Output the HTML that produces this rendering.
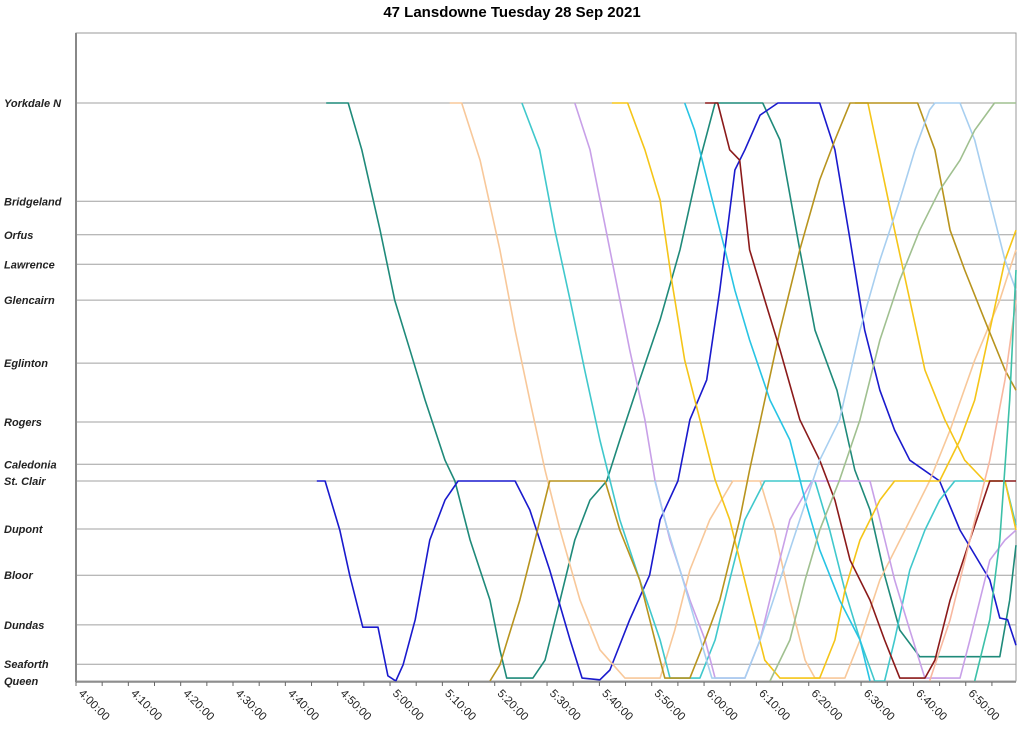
<!DOCTYPE html>
<html><head><meta charset="utf-8"><style>
body{margin:0;background:#fff;}
svg{display:block;font-family:"Liberation Sans",Arial,sans-serif;}
</style></head><body>
<svg id="chart" width="1024" height="734">
<text x="512" y="17" text-anchor="middle" font-size="15" font-weight="bold" fill="#000">47 Lansdowne Tuesday 28 Sep 2021</text>
<g id="grid"></g><g id="series"></g><g id="axes"></g>
</svg>
<script>
const stopNames=["Yorkdale N","Bridgeland","Orfus","Lawrence","Glencairn","Eglinton","Rogers","Caledonia","St. Clair","Dupont","Bloor","Dundas","Seaforth","Queen"];
const stopPos=[100,83.0,77.2,72.1,65.9,55.0,44.8,37.5,34.6,26.3,18.3,9.7,2.9,0];
const tickLabels=["4:00:00","4:10:00","4:20:00","4:30:00","4:40:00","4:50:00","5:00:00","5:10:00","5:20:00","5:30:00","5:40:00","5:50:00","6:00:00","6:10:00","6:20:00","6:30:00","6:40:00","6:50:00"];
const busColors=["#1f8a7a","#1a1acd","#f8c89a","#40c8cc","#c8a0e8","#f5c518","#f5c518","#b8941e","#8b1a1a","#28c4e4","#a8cff0","#a0c090","#f8b8a0","#3cc0a8"];
const busA=[47.8,100,52.0,100,54.6,91.9,58.1,78.0,60.9,65.9,63.8,57.3,66.7,48.6,70.5,38.2,72.4,34.6,75.3,24.4,79.1,14.0,81.0,5.4,82.3,0.5,87.3,0.5,89.6,3.6,92.5,14.0,95.3,24.4,98.2,31.3,101.4,34.6,103.9,41.7,107.7,52.1,111.6,62.5,115.4,74.6,119.2,90.1,122.1,100,131.2,100,134.5,93.6,138.3,74.6,141.2,60.7,145.4,50.3,148.8,36.5,151.7,29.6,154.5,18.3,157.4,8.8,161.2,4.2,176.5,4.2,178.4,14.0,179.6,23.5];
const busB=[46.0,34.6,47.6,34.6,50.4,26.1,52.3,18.3,54.8,9.3,57.7,9.3,59.6,0.9,61.1,0,62.5,2.8,64.8,10.6,67.6,24.4,70.5,31.3,73.0,34.6,83.9,34.6,86.7,29.6,90.5,19.2,94.4,7.1,96.7,0.5,100.1,0.2,102.0,1.9,105.8,10.6,109.6,18.3,111.6,27.9,115.0,34.6,117.3,45.2,120.5,52.1,123.0,67.6,125.9,88.4,127.8,91.9,130.7,97.9,134.1,100,142.1,100,145.0,91.9,147.9,76.3,150.7,60.7,153.6,50.3,156.4,43.4,159.3,38.2,165.0,34.6,168.9,26.1,174.6,17.5,176.5,10.9,178.0,10.6,179.6,6.2];
const busC=[71.4,100,73.7,100,77.2,90.1,81.0,74.6,83.9,60.7,86.7,48.6,89.6,36.5,92.5,26.1,96.3,14.0,100.1,5.4,104.9,0.5,111.6,0.5,114.4,8.8,117.3,19.2,121.1,27.9,125.5,34.6,130.7,34.6,133.5,26.1,136.4,14.0,139.3,3.6,141.2,0.5,146.9,0.5,149.8,7.1,153.6,17.5,158.4,26.1,163.1,34.6,167.0,43.4,171.7,55.5,176.5,65.9,179.6,74.6];
const busD=[85.2,100,88.6,91.9,91.5,78.0,94.4,65.9,97.2,53.8,100.1,41.7,103.9,27.9,107.7,17.5,111.6,7.1,113.5,0.5,119.2,0.5,122.1,7.1,124.9,17.5,127.8,27.9,131.6,34.6,141.2,34.6,144.0,26.1,146.9,15.7,149.8,7.1,152.6,0,154.5,0,156.4,7.1,159.3,19.2,162.2,26.1,165.0,31.3,167.9,34.6,177.5,34.6,179.6,27.0];
const busE=[95.3,100,98.2,91.9,102.0,74.6,105.8,57.3,108.7,45.2,110.6,34.8,113.5,24.4,117.3,14.0,120.2,7.1,122.1,0.5,127.8,0.5,130.7,7.1,133.5,17.5,136.4,27.9,140.6,34.6,151.7,34.6,153.6,27.9,156.4,17.5,159.3,8.8,162.2,0.5,168.9,0.5,170.8,7.1,172.7,14.0,174.6,20.9,177.5,24.4,179.6,26.1];
const busF=[102.4,100,105.4,100,108.7,91.9,111.6,83.2,113.8,69.4,116.3,55.5,119.2,45.2,122.1,34.8,124.9,27.9,128.7,14.0,131.6,3.6,134.5,0.5,142.1,0.5,145.0,7.1,146.9,15.7,149.8,24.4,153.6,31.3,156.4,34.6,165.0,34.6,168.9,41.7,171.7,48.6,174.6,60.7,177.5,72.8,179.6,78.0];
const busF2=[148.8,100,151.3,100,153.6,90.1,156.4,78.0,159.3,65.9,162.2,53.8,166.0,45.2,169.8,38.2,173.6,34.6,177.5,34.6,179.6,26.1];
const busG=[79.1,0,81.0,2.8,84.8,14.0,87.7,24.4,90.5,34.6,101.1,34.6,103.9,26.1,107.7,17.5,110.6,7.1,112.5,0.5,117.3,0.5,120.2,7.1,123.0,14.0,126.8,27.9,128.7,36.5,131.6,48.6,134.5,60.7,138.3,74.6,142.1,86.7,145.0,93.6,147.9,100,160.8,100,164.1,91.9,167.0,78.0,169.8,71.1,173.6,62.5,177.5,53.8,179.6,50.3];
const busH=[120.2,100,122.6,100,124.9,91.9,126.8,90.1,128.7,74.6,131.6,65.9,134.5,57.3,138.3,45.2,142.1,38.2,145.0,31.3,147.9,20.9,151.7,14.0,154.5,7.1,157.4,0.5,162.2,0.5,164.1,3.6,167.0,14.0,170.8,24.4,174.6,34.6,179.6,34.6];
const busI=[116.3,100,118.2,95.3,121.1,84.9,124.0,74.6,125.9,67.6,128.7,59.0,132.6,48.6,136.4,41.7,139.3,31.3,142.1,22.7,145.9,14.0,149.8,7.1,151.7,0];
const busJ=[110.6,34.6,112.5,27.9,115.4,19.2,118.2,10.6,121.5,0.5,127.8,0.5,130.7,7.1,134.5,17.5,138.3,27.9,142.1,38.2,145.9,45.2,149.8,60.7,153.6,72.8,157.4,83.2,160.3,91.9,163.1,98.8,164.1,100,168.9,100,171.7,93.6,174.6,83.2,177.5,72.8,179.6,67.6];
const busK=[132.6,0,136.4,7.1,139.3,17.5,142.1,26.1,145.9,34.8,149.8,45.2,153.6,59.0,157.4,69.4,161.2,78.0,165.0,84.9,168.9,90.1,171.7,95.3,175.5,100,179.6,100];
const busL=[163.1,0,167.0,10.6,170.8,24.4,174.6,38.2,177.5,52.1,179.6,65.9];
const busM=[171.7,0,174.6,10.6,176.5,24.4,178.4,48.6,179.6,71.1];
const buses=[busA,busB,busC,busD,busE,busF,busF2,busG,busH,busI,busJ,busK,busL,busM];

const X0=76,X1=1016,TMAX=179.6,Y0=681,Y1=103;
function xs(m){return X0+m*(X1-X0)/TMAX;}
function ys(p){return Y0-p*(Y0-Y1)/100;}
const NS="http://www.w3.org/2000/svg";
function mk(tag,attrs,parent){const e=document.createElementNS(NS,tag);for(const k in attrs)e.setAttribute(k,attrs[k]);parent.appendChild(e);return e;}
const grid=document.getElementById('grid'),ser=document.getElementById('series'),ax=document.getElementById('axes');
mk('rect',{x:X0,y:33,width:X1-X0,height:Y0-33,fill:'none',stroke:'#999','stroke-width':1},grid);
stopNames.forEach((n,i)=>{
  const y=ys(stopPos[i]);
  const l=mk('line',{x1:X0,x2:X1,y1:y,y2:y,stroke:'#a0a0a0','stroke-width':1},grid);
  
  
  const t=mk('text',{x:4,y:y+4,'font-size':11,'font-weight':'bold','font-style':'italic',fill:'#222'},ax);
  t.textContent=n;
  
  
});
buses.forEach((b,i)=>{
  let d='';
  for(let k=0;k<b.length;k+=2){d+=(k?'L':'M')+xs(b[k]).toFixed(1)+' '+ys(b[k+1]).toFixed(1);}
  const p=mk('path',{d:d,fill:'none',stroke:busColors[i],'stroke-width':1.6,'stroke-linejoin':'round'},ser);
  
  
});
mk('line',{x1:X0,x2:X0,y1:33,y2:Y0+1,stroke:'#888','stroke-width':2},ax);
mk('line',{x1:X0,x2:X1,y1:Y0+1,y2:Y0+1,stroke:'#888','stroke-width':1.5},ax);
for(let m=0;m<=TMAX;m+=5){mk('line',{x1:xs(m),x2:xs(m),y1:Y0+1,y2:Y0+5,stroke:'#666','stroke-width':1},ax);}
tickLabels.forEach((s,i)=>{
  const x=xs(i*10)+2,y=Y0+13;
  const t=mk('text',{x:x,y:y,'font-size':11.5,fill:'#222',transform:'rotate(45 '+x+' '+y+')'},ax);
  t.textContent=s;
  
  
});
</script>
</body></html>
